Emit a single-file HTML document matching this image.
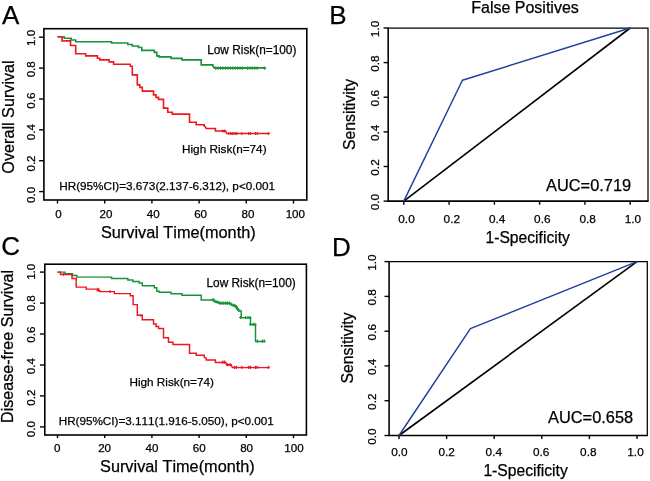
<!DOCTYPE html>
<html><head><meta charset="utf-8"><title>Figure</title>
<style>
html,body{margin:0;padding:0;background:#fff;}
svg{display:block;}
text{font-family:"Liberation Sans",Arial,Helvetica,sans-serif;font-kerning:none;fill:#000;stroke:#000;stroke-width:0.25px;}
</style></head>
<body>
<svg width="650" height="481" viewBox="0 0 650 481">
<rect width="650" height="481" fill="#fff"/>
<rect x="43.9" y="28.7" width="262.90000000000003" height="171.3" fill="none" stroke="#000" stroke-width="1.6"/>
<line x1="57.5" y1="200.0" x2="57.5" y2="203.6" stroke="#000" stroke-width="1.4"/><line x1="104.7" y1="200.0" x2="104.7" y2="203.6" stroke="#000" stroke-width="1.4"/><line x1="151.9" y1="200.0" x2="151.9" y2="203.6" stroke="#000" stroke-width="1.4"/><line x1="199.1" y1="200.0" x2="199.1" y2="203.6" stroke="#000" stroke-width="1.4"/><line x1="246.3" y1="200.0" x2="246.3" y2="203.6" stroke="#000" stroke-width="1.4"/><line x1="293.5" y1="200.0" x2="293.5" y2="203.6" stroke="#000" stroke-width="1.4"/>
<line x1="43.9" y1="191.6" x2="39.1" y2="191.6" stroke="#000" stroke-width="1.4"/><line x1="43.9" y1="160.7" x2="39.1" y2="160.7" stroke="#000" stroke-width="1.4"/><line x1="43.9" y1="129.8" x2="39.1" y2="129.8" stroke="#000" stroke-width="1.4"/><line x1="43.9" y1="99.0" x2="39.1" y2="99.0" stroke="#000" stroke-width="1.4"/><line x1="43.9" y1="68.1" x2="39.1" y2="68.1" stroke="#000" stroke-width="1.4"/><line x1="43.9" y1="37.2" x2="39.1" y2="37.2" stroke="#000" stroke-width="1.4"/>
<text x="58.5" y="217.9" font-size="11.6" text-anchor="middle" >0</text>
<text x="105.9" y="217.9" font-size="11.6" text-anchor="middle" >20</text>
<text x="153.2" y="217.9" font-size="11.6" text-anchor="middle" >40</text>
<text x="200.6" y="217.9" font-size="11.6" text-anchor="middle" >60</text>
<text x="247.9" y="217.9" font-size="11.6" text-anchor="middle" >80</text>
<text x="295.3" y="217.9" font-size="11.6" text-anchor="middle" >100</text>
<text x="34.8" y="194.9" font-size="11.6" text-anchor="middle" transform="rotate(-90 34.8 194.9)" >0.0</text>
<text x="34.8" y="163.5" font-size="11.6" text-anchor="middle" transform="rotate(-90 34.8 163.5)" >0.2</text>
<text x="34.8" y="132.1" font-size="11.6" text-anchor="middle" transform="rotate(-90 34.8 132.1)" >0.4</text>
<text x="34.8" y="100.7" font-size="11.6" text-anchor="middle" transform="rotate(-90 34.8 100.7)" >0.6</text>
<text x="34.8" y="69.3" font-size="11.6" text-anchor="middle" transform="rotate(-90 34.8 69.3)" >0.8</text>
<text x="34.8" y="37.9" font-size="11.6" text-anchor="middle" transform="rotate(-90 34.8 37.9)" >1.0</text>
<text x="14.0" y="117.0" font-size="16.2" text-anchor="middle" transform="rotate(-90 14.0 117.0)" >Overall Survival</text>
<text x="178.3" y="237.8" font-size="16.3" text-anchor="middle" >Survival Time(month)</text>
<path d="M57.5,36.7 L64.2,36.7 L64.2,38.2 L71.2,38.2 L71.2,40.0 L75.7,40.0 L75.7,41.7 L111.6,41.7 L111.6,43.0 L127.8,43.0 L127.8,44.5 L132.3,44.5 L132.3,46.0 L138.6,46.0 L138.6,47.5 L141.8,47.5 L141.8,50.4 L154.3,50.4 L154.3,52.4 L156.8,52.4 L156.8,55.9 L159.0,55.9 L159.0,56.9 L171.0,56.9 L171.0,58.4 L180.0,58.4 L182.0,58.4 L182.0,59.9 L201.2,59.9 L201.2,64.9 L212.9,64.9 L212.9,66.4 L214.4,67.9 L264.8,67.9" fill="none" stroke="#15933a" stroke-width="1.6" stroke-linejoin="miter"/>
<path d="M57.5,36.7 L62.0,36.7 L62.0,41.0 L70.5,40.7 L70.5,45.5 L75.7,45.5 L75.7,53.7 L85.7,53.7 L85.7,55.9 L97.4,55.9 L97.4,58.2 L99.9,58.2 L99.9,59.9 L109.1,59.9 L109.1,61.9 L113.6,61.9 L113.6,64.2 L130.3,64.2 L130.3,66.2 L132.3,66.2 L132.3,74.9 L137.3,74.9 L137.3,84.9 L139.8,84.9 L139.8,87.4 L142.3,87.4 L142.3,91.1 L153.5,91.1 L153.5,94.9 L156.0,94.9 L156.0,97.4 L158.5,97.4 L158.5,99.4 L163.5,99.4 L163.5,108.1 L167.8,108.1 L167.8,112.3 L172.3,112.3 L172.3,114.1 L180.0,114.1 L189.5,114.1 L189.5,122.3 L196.2,122.3 L196.2,124.8 L204.2,124.8 L204.2,126.3 L205.4,126.8 L206.2,128.5 L215.4,128.5 L215.4,131.0 L225.6,131.0 L226.9,133.5 L269.6,133.5" fill="none" stroke="#ee161f" stroke-width="1.6" stroke-linejoin="miter"/>
<path d="M213.9,68.1H217.3M215.6,66.4V69.8" stroke="#15933a" stroke-width="1.1" fill="none"/><path d="M216.3,68.1H219.7M218.0,66.4V69.8" stroke="#15933a" stroke-width="1.1" fill="none"/><path d="M218.8,68.1H222.2M220.5,66.4V69.8" stroke="#15933a" stroke-width="1.1" fill="none"/><path d="M221.2,68.1H224.6M222.9,66.4V69.8" stroke="#15933a" stroke-width="1.1" fill="none"/><path d="M223.7,68.1H227.1M225.4,66.4V69.8" stroke="#15933a" stroke-width="1.1" fill="none"/><path d="M226.1,68.1H229.5M227.8,66.4V69.8" stroke="#15933a" stroke-width="1.1" fill="none"/><path d="M228.6,68.1H232.0M230.3,66.4V69.8" stroke="#15933a" stroke-width="1.1" fill="none"/><path d="M231.0,68.1H234.4M232.7,66.4V69.8" stroke="#15933a" stroke-width="1.1" fill="none"/><path d="M233.5,68.1H236.9M235.2,66.4V69.8" stroke="#15933a" stroke-width="1.1" fill="none"/><path d="M235.9,68.1H239.3M237.6,66.4V69.8" stroke="#15933a" stroke-width="1.1" fill="none"/><path d="M238.4,68.1H241.8M240.1,66.4V69.8" stroke="#15933a" stroke-width="1.1" fill="none"/><path d="M240.8,68.1H244.2M242.5,66.4V69.8" stroke="#15933a" stroke-width="1.1" fill="none"/><path d="M245.7,68.1H249.1M247.4,66.4V69.8" stroke="#15933a" stroke-width="1.1" fill="none"/><path d="M248.2,68.1H251.6M249.9,66.4V69.8" stroke="#15933a" stroke-width="1.1" fill="none"/><path d="M250.6,68.1H254.0M252.3,66.4V69.8" stroke="#15933a" stroke-width="1.1" fill="none"/><path d="M253.1,68.1H256.5M254.8,66.4V69.8" stroke="#15933a" stroke-width="1.1" fill="none"/><path d="M255.5,68.1H258.9M257.2,66.4V69.8" stroke="#15933a" stroke-width="1.1" fill="none"/><path d="M262.9,68.1H266.3M264.6,66.4V69.8" stroke="#15933a" stroke-width="1.1" fill="none"/>
<path d="M221.2,131.0H224.4M222.8,129.4V132.6" stroke="#ee161f" stroke-width="1.1" fill="none"/><path d="M223.0,131.0H226.2M224.6,129.4V132.6" stroke="#ee161f" stroke-width="1.1" fill="none"/><path d="M227.3,133.5H230.5M228.9,131.9V135.1" stroke="#ee161f" stroke-width="1.1" fill="none"/><path d="M229.2,133.5H232.4M230.8,131.9V135.1" stroke="#ee161f" stroke-width="1.1" fill="none"/><path d="M230.6,133.5H233.8M232.2,131.9V135.1" stroke="#ee161f" stroke-width="1.1" fill="none"/><path d="M232.2,133.5H235.4M233.8,131.9V135.1" stroke="#ee161f" stroke-width="1.1" fill="none"/><path d="M234.1,133.5H237.3M235.7,131.9V135.1" stroke="#ee161f" stroke-width="1.1" fill="none"/><path d="M235.3,133.5H238.5M236.9,131.9V135.1" stroke="#ee161f" stroke-width="1.1" fill="none"/><path d="M240.2,133.5H243.4M241.8,131.9V135.1" stroke="#ee161f" stroke-width="1.1" fill="none"/><path d="M247.0,133.5H250.2M248.6,131.9V135.1" stroke="#ee161f" stroke-width="1.1" fill="none"/><path d="M248.9,133.5H252.1M250.5,131.9V135.1" stroke="#ee161f" stroke-width="1.1" fill="none"/><path d="M253.8,133.5H257.0M255.4,131.9V135.1" stroke="#ee161f" stroke-width="1.1" fill="none"/><path d="M255.6,133.5H258.8M257.2,131.9V135.1" stroke="#ee161f" stroke-width="1.1" fill="none"/><path d="M266.7,133.5H269.9M268.3,131.9V135.1" stroke="#ee161f" stroke-width="1.1" fill="none"/>
<text x="207.2" y="53.5" font-size="11.85" text-anchor="start" >Low Risk(n=100)</text>
<text x="182.0" y="152.8" font-size="11.75" text-anchor="start" >High Risk(n=74)</text>
<text x="59.2" y="189.9" font-size="11.74" text-anchor="start" >HR(95%CI)=3.673(2.137-6.312), p&lt;0.001</text>
<text x="2.0" y="23.7" font-size="26" text-anchor="start" >A</text>
<rect x="44.8" y="264.2" width="261.59999999999997" height="170.8" fill="none" stroke="#000" stroke-width="1.6"/>
<line x1="57.5" y1="435.0" x2="57.5" y2="438.1" stroke="#000" stroke-width="1.4"/><line x1="104.7" y1="435.0" x2="104.7" y2="438.1" stroke="#000" stroke-width="1.4"/><line x1="151.9" y1="435.0" x2="151.9" y2="438.1" stroke="#000" stroke-width="1.4"/><line x1="199.1" y1="435.0" x2="199.1" y2="438.1" stroke="#000" stroke-width="1.4"/><line x1="246.3" y1="435.0" x2="246.3" y2="438.1" stroke="#000" stroke-width="1.4"/><line x1="293.5" y1="435.0" x2="293.5" y2="438.1" stroke="#000" stroke-width="1.4"/>
<line x1="44.8" y1="426.9" x2="40.0" y2="426.9" stroke="#000" stroke-width="1.4"/><line x1="44.8" y1="395.9" x2="40.0" y2="395.9" stroke="#000" stroke-width="1.4"/><line x1="44.8" y1="365.0" x2="40.0" y2="365.0" stroke="#000" stroke-width="1.4"/><line x1="44.8" y1="334.0" x2="40.0" y2="334.0" stroke="#000" stroke-width="1.4"/><line x1="44.8" y1="303.1" x2="40.0" y2="303.1" stroke="#000" stroke-width="1.4"/><line x1="44.8" y1="272.1" x2="40.0" y2="272.1" stroke="#000" stroke-width="1.4"/>
<text x="57.2" y="451.7" font-size="11.6" text-anchor="middle" >0</text>
<text x="104.6" y="451.7" font-size="11.6" text-anchor="middle" >20</text>
<text x="151.9" y="451.7" font-size="11.6" text-anchor="middle" >40</text>
<text x="199.3" y="451.7" font-size="11.6" text-anchor="middle" >60</text>
<text x="246.6" y="451.7" font-size="11.6" text-anchor="middle" >80</text>
<text x="294.0" y="451.7" font-size="11.6" text-anchor="middle" >100</text>
<text x="34.8" y="429.1" font-size="11.6" text-anchor="middle" transform="rotate(-90 34.8 429.1)" >0.0</text>
<text x="34.8" y="397.6" font-size="11.6" text-anchor="middle" transform="rotate(-90 34.8 397.6)" >0.2</text>
<text x="34.8" y="366.2" font-size="11.6" text-anchor="middle" transform="rotate(-90 34.8 366.2)" >0.4</text>
<text x="34.8" y="334.7" font-size="11.6" text-anchor="middle" transform="rotate(-90 34.8 334.7)" >0.6</text>
<text x="34.8" y="303.3" font-size="11.6" text-anchor="middle" transform="rotate(-90 34.8 303.3)" >0.8</text>
<text x="34.8" y="271.8" font-size="11.6" text-anchor="middle" transform="rotate(-90 34.8 271.8)" >1.0</text>
<text x="12.9" y="346.5" font-size="16.1" text-anchor="middle" transform="rotate(-90 12.9 346.5)" >Disease-free Survival</text>
<text x="177.4" y="471.5" font-size="16.3" text-anchor="middle" >Survival Time(month)</text>
<path d="M57.5,272.1 L65.0,272.1 L65.0,273.6 L72.5,273.6 L72.5,275.4 L76.9,275.4 L76.9,277.1 L111.6,277.1 L111.6,278.4 L127.8,278.4 L127.8,279.9 L132.8,279.9 L132.8,281.4 L139.1,281.4 L139.1,282.9 L142.3,282.9 L142.3,285.8 L154.3,285.8 L154.3,287.8 L156.8,287.8 L156.8,291.3 L159.0,291.3 L159.0,292.3 L171.0,292.3 L171.0,293.8 L180.0,293.8 L182.0,293.8 L182.0,295.3 L201.2,295.3 L201.2,295.3 L201.2,300.0 L213.1,300.0 L214.4,301.5 L218.7,302.8 L220.0,303.4 L230.0,303.4 L231.2,304.7 L233.7,305.9 L236.2,305.9 L236.2,307.8 L237.4,309.0 L238.7,310.9 L241.2,310.9 L241.2,317.8 L250.5,317.8 L250.5,324.6 L255.5,324.6 L255.5,341.5 L264.3,341.5" fill="none" stroke="#15933a" stroke-width="1.45" stroke-linejoin="miter"/>
<path d="M57.5,272.1 L60.5,272.1 L60.5,274.4 L72.0,274.4 L72.0,278.4 L76.2,278.4 L76.2,287.1 L86.2,287.1 L86.2,289.1 L97.4,289.1 L97.4,290.8 L99.9,290.8 L99.9,291.6 L114.4,291.6 L114.4,293.6 L130.3,293.6 L130.3,295.8 L133.1,295.8 L133.1,304.6 L137.3,304.6 L137.3,315.3 L142.3,315.3 L142.3,319.8 L153.5,319.8 L153.5,324.0 L156.0,324.0 L156.0,326.5 L158.5,326.5 L158.5,328.5 L163.5,328.5 L163.5,337.7 L168.5,337.7 L168.5,342.2 L173.0,342.2 L173.0,344.5 L180.0,344.5 L189.5,344.5 L189.5,353.2 L196.2,353.2 L196.2,355.2 L204.2,355.2 L204.3,355.4 L204.3,357.5 L206.2,358.1 L206.2,360.0 L215.4,360.0 L215.4,362.5 L225.8,362.5 L226.5,364.9 L231.4,364.9 L232.2,367.6 L269.5,367.6" fill="none" stroke="#ee161f" stroke-width="1.45" stroke-linejoin="miter"/>
<path d="M211.5,299.7H214.7M213.1,298.1V301.3" stroke="#15933a" stroke-width="1.1" fill="none"/><path d="M213.4,301.2H216.6M215.0,299.6V302.8" stroke="#15933a" stroke-width="1.1" fill="none"/><path d="M215.2,301.9H218.4M216.8,300.3V303.5" stroke="#15933a" stroke-width="1.1" fill="none"/><path d="M217.1,302.5H220.3M218.7,300.9V304.1" stroke="#15933a" stroke-width="1.1" fill="none"/><path d="M218.4,303.1H221.6M220.0,301.5V304.7" stroke="#15933a" stroke-width="1.1" fill="none"/><path d="M220.2,303.1H223.4M221.8,301.5V304.7" stroke="#15933a" stroke-width="1.1" fill="none"/><path d="M222.1,303.1H225.3M223.7,301.5V304.7" stroke="#15933a" stroke-width="1.1" fill="none"/><path d="M224.0,303.1H227.2M225.6,301.5V304.7" stroke="#15933a" stroke-width="1.1" fill="none"/><path d="M225.9,303.1H229.1M227.5,301.5V304.7" stroke="#15933a" stroke-width="1.1" fill="none"/><path d="M227.7,303.1H230.9M229.3,301.5V304.7" stroke="#15933a" stroke-width="1.1" fill="none"/><path d="M229.6,304.4H232.8M231.2,302.8V306.0" stroke="#15933a" stroke-width="1.1" fill="none"/><path d="M231.5,305.0H234.7M233.1,303.4V306.6" stroke="#15933a" stroke-width="1.1" fill="none"/><path d="M233.3,305.6H236.5M234.9,304.0V307.2" stroke="#15933a" stroke-width="1.1" fill="none"/><path d="M234.6,306.8H237.8M236.2,305.2V308.4" stroke="#15933a" stroke-width="1.1" fill="none"/><path d="M235.8,308.7H239.0M237.4,307.1V310.3" stroke="#15933a" stroke-width="1.1" fill="none"/><path d="M237.1,310.0H240.3M238.7,308.4V311.6" stroke="#15933a" stroke-width="1.1" fill="none"/><path d="M239.0,317.5H242.2M240.6,315.9V319.1" stroke="#15933a" stroke-width="1.1" fill="none"/><path d="M244.0,317.5H247.2M245.6,315.9V319.1" stroke="#15933a" stroke-width="1.1" fill="none"/><path d="M246.4,317.5H249.6M248.0,315.9V319.1" stroke="#15933a" stroke-width="1.1" fill="none"/><path d="M248.3,317.5H251.5M249.9,315.9V319.1" stroke="#15933a" stroke-width="1.1" fill="none"/><path d="M248.9,324.3H252.1M250.5,322.7V325.9" stroke="#15933a" stroke-width="1.1" fill="none"/><path d="M251.4,324.3H254.6M253.0,322.7V325.9" stroke="#15933a" stroke-width="1.1" fill="none"/><path d="M253.3,324.3H256.5M254.9,322.7V325.9" stroke="#15933a" stroke-width="1.1" fill="none"/><path d="M255.8,341.2H259.0M257.4,339.6V342.8" stroke="#15933a" stroke-width="1.1" fill="none"/><path d="M260.8,341.2H264.0M262.4,339.6V342.8" stroke="#15933a" stroke-width="1.1" fill="none"/><path d="M262.7,341.2H265.9M264.3,339.6V342.8" stroke="#15933a" stroke-width="1.1" fill="none"/>
<path d="M139.6,315.5H142.0M140.8,314.3V316.7" stroke="#ee161f" stroke-width="1.1" fill="none"/><path d="M62.1,274.4H64.9M63.5,273.0V275.8" stroke="#ee161f" stroke-width="1.1" fill="none"/><path d="M96.8,289.1H99.6M98.2,287.7V290.5" stroke="#ee161f" stroke-width="1.1" fill="none"/><path d="M108.6,291.5H111.4M110.0,290.1V292.9" stroke="#ee161f" stroke-width="1.1" fill="none"/><path d="M221.2,362.2H224.4M222.8,360.6V363.8" stroke="#ee161f" stroke-width="1.1" fill="none"/><path d="M223.0,362.2H226.2M224.6,360.6V363.8" stroke="#ee161f" stroke-width="1.1" fill="none"/><path d="M226.1,364.6H229.3M227.7,363.0V366.2" stroke="#ee161f" stroke-width="1.1" fill="none"/><path d="M228.6,364.6H231.8M230.2,363.0V366.2" stroke="#ee161f" stroke-width="1.1" fill="none"/><path d="M232.9,367.3H236.1M234.5,365.7V368.9" stroke="#ee161f" stroke-width="1.1" fill="none"/><path d="M234.7,367.3H237.9M236.3,365.7V368.9" stroke="#ee161f" stroke-width="1.1" fill="none"/><path d="M240.2,367.3H243.4M241.8,365.7V368.9" stroke="#ee161f" stroke-width="1.1" fill="none"/><path d="M247.0,367.3H250.2M248.6,365.7V368.9" stroke="#ee161f" stroke-width="1.1" fill="none"/><path d="M248.9,367.3H252.1M250.5,365.7V368.9" stroke="#ee161f" stroke-width="1.1" fill="none"/><path d="M253.8,367.3H257.0M255.4,365.7V368.9" stroke="#ee161f" stroke-width="1.1" fill="none"/><path d="M255.6,367.3H258.8M257.2,365.7V368.9" stroke="#ee161f" stroke-width="1.1" fill="none"/><path d="M266.7,367.3H269.9M268.3,365.7V368.9" stroke="#ee161f" stroke-width="1.1" fill="none"/>
<text x="206.5" y="287.4" font-size="11.85" text-anchor="start" >Low Risk(n=100)</text>
<text x="129.4" y="386.0" font-size="11.75" text-anchor="start" >High Risk(n=74)</text>
<text x="58.7" y="424.7" font-size="11.7" text-anchor="start" >HR(95%CI)=3.111(1.916-5.050), p&lt;0.001</text>
<text x="1.2" y="255.3" font-size="26" text-anchor="start" >C</text>
<path d="M388.2,28.0H648.0V201.1" fill="none" stroke="#000" stroke-width="1.25"/>
<path d="M388.2,27.4V201.1H648.6" fill="none" stroke="#000" stroke-width="1.55"/>
<line x1="403.8" y1="201.1" x2="403.8" y2="204.7" stroke="#000" stroke-width="1.4"/><line x1="449.1" y1="201.1" x2="449.1" y2="204.7" stroke="#000" stroke-width="1.4"/><line x1="494.4" y1="201.1" x2="494.4" y2="204.7" stroke="#000" stroke-width="1.4"/><line x1="539.6" y1="201.1" x2="539.6" y2="204.7" stroke="#000" stroke-width="1.4"/><line x1="584.9" y1="201.1" x2="584.9" y2="204.7" stroke="#000" stroke-width="1.4"/><line x1="630.2" y1="201.1" x2="630.2" y2="204.7" stroke="#000" stroke-width="1.4"/>
<line x1="388.2" y1="201.1" x2="383.6" y2="201.1" stroke="#000" stroke-width="1.4"/><line x1="388.2" y1="166.5" x2="383.6" y2="166.5" stroke="#000" stroke-width="1.4"/><line x1="388.2" y1="131.9" x2="383.6" y2="131.9" stroke="#000" stroke-width="1.4"/><line x1="388.2" y1="97.2" x2="383.6" y2="97.2" stroke="#000" stroke-width="1.4"/><line x1="388.2" y1="62.6" x2="383.6" y2="62.6" stroke="#000" stroke-width="1.4"/><line x1="388.2" y1="28.0" x2="383.6" y2="28.0" stroke="#000" stroke-width="1.4"/>
<text x="406.5" y="223.2" font-size="11.8" text-anchor="middle" >0.0</text>
<text x="451.8" y="223.2" font-size="11.8" text-anchor="middle" >0.2</text>
<text x="497.1" y="223.2" font-size="11.8" text-anchor="middle" >0.4</text>
<text x="542.3" y="223.2" font-size="11.8" text-anchor="middle" >0.6</text>
<text x="587.6" y="223.2" font-size="11.8" text-anchor="middle" >0.8</text>
<text x="632.9" y="223.2" font-size="11.8" text-anchor="middle" >1.0</text>
<text x="378.8" y="202.1" font-size="11.8" text-anchor="middle" transform="rotate(-90 378.8 202.1)" >0.0</text>
<text x="378.8" y="167.5" font-size="11.8" text-anchor="middle" transform="rotate(-90 378.8 167.5)" >0.2</text>
<text x="378.8" y="132.9" font-size="11.8" text-anchor="middle" transform="rotate(-90 378.8 132.9)" >0.4</text>
<text x="378.8" y="98.2" font-size="11.8" text-anchor="middle" transform="rotate(-90 378.8 98.2)" >0.6</text>
<text x="378.8" y="63.6" font-size="11.8" text-anchor="middle" transform="rotate(-90 378.8 63.6)" >0.8</text>
<text x="378.8" y="29.0" font-size="11.8" text-anchor="middle" transform="rotate(-90 378.8 29.0)" >1.0</text>
<path d="M403.8,201.1L630.2,28.0" stroke="#000" stroke-width="1.6" fill="none"/>
<path d="M403.8,201.1L462.4,80.3L630.2,28.0" stroke="#1f3f9c" stroke-width="1.45" fill="none" stroke-linejoin="round"/>
<text x="546.0" y="191.3" font-size="16.4" text-anchor="start" >AUC=0.719</text>
<text x="527.7" y="243.0" font-size="15.65" text-anchor="middle" >1-Specificity</text>
<text x="354.7" y="114.5" font-size="15.8" text-anchor="middle" transform="rotate(-90 354.7 114.5)" >Sensitivity</text>
<text x="329.3" y="23.7" font-size="26" text-anchor="start" >B</text>
<text x="525.0" y="12.7" font-size="16" text-anchor="middle" >False Positives</text>
<path d="M389.1,261.6H647.3V435.5" fill="none" stroke="#000" stroke-width="1.25"/>
<path d="M389.1,261.0V435.5H647.9" fill="none" stroke="#000" stroke-width="1.55"/>
<line x1="399.0" y1="435.5" x2="399.0" y2="439.1" stroke="#000" stroke-width="1.4"/><line x1="446.6" y1="435.5" x2="446.6" y2="439.1" stroke="#000" stroke-width="1.4"/><line x1="494.2" y1="435.5" x2="494.2" y2="439.1" stroke="#000" stroke-width="1.4"/><line x1="541.8" y1="435.5" x2="541.8" y2="439.1" stroke="#000" stroke-width="1.4"/><line x1="589.4" y1="435.5" x2="589.4" y2="439.1" stroke="#000" stroke-width="1.4"/><line x1="637.0" y1="435.5" x2="637.0" y2="439.1" stroke="#000" stroke-width="1.4"/>
<line x1="389.1" y1="435.5" x2="384.5" y2="435.5" stroke="#000" stroke-width="1.4"/><line x1="389.1" y1="400.7" x2="384.5" y2="400.7" stroke="#000" stroke-width="1.4"/><line x1="389.1" y1="365.9" x2="384.5" y2="365.9" stroke="#000" stroke-width="1.4"/><line x1="389.1" y1="331.2" x2="384.5" y2="331.2" stroke="#000" stroke-width="1.4"/><line x1="389.1" y1="296.4" x2="384.5" y2="296.4" stroke="#000" stroke-width="1.4"/><line x1="389.1" y1="261.6" x2="384.5" y2="261.6" stroke="#000" stroke-width="1.4"/>
<text x="399.4" y="455.7" font-size="11.8" text-anchor="middle" >0.0</text>
<text x="446.6" y="455.7" font-size="11.8" text-anchor="middle" >0.2</text>
<text x="493.8" y="455.7" font-size="11.8" text-anchor="middle" >0.4</text>
<text x="541.1" y="455.7" font-size="11.8" text-anchor="middle" >0.6</text>
<text x="588.3" y="455.7" font-size="11.8" text-anchor="middle" >0.8</text>
<text x="635.5" y="455.7" font-size="11.8" text-anchor="middle" >1.0</text>
<text x="376.2" y="436.5" font-size="11.8" text-anchor="middle" transform="rotate(-90 376.2 436.5)" >0.0</text>
<text x="376.2" y="401.7" font-size="11.8" text-anchor="middle" transform="rotate(-90 376.2 401.7)" >0.2</text>
<text x="376.2" y="366.9" font-size="11.8" text-anchor="middle" transform="rotate(-90 376.2 366.9)" >0.4</text>
<text x="376.2" y="332.2" font-size="11.8" text-anchor="middle" transform="rotate(-90 376.2 332.2)" >0.6</text>
<text x="376.2" y="297.4" font-size="11.8" text-anchor="middle" transform="rotate(-90 376.2 297.4)" >0.8</text>
<text x="376.2" y="262.6" font-size="11.8" text-anchor="middle" transform="rotate(-90 376.2 262.6)" >1.0</text>
<path d="M399.0,435.5L637.0,261.6" stroke="#000" stroke-width="1.6" fill="none"/>
<path d="M399.0,435.5L470.4,328.6L637.0,261.6" stroke="#1f3f9c" stroke-width="1.45" fill="none" stroke-linejoin="round"/>
<text x="548.0" y="422.7" font-size="16.4" text-anchor="start" >AUC=0.658</text>
<text x="525.6" y="476.3" font-size="15.65" text-anchor="middle" >1-Specificity</text>
<text x="352.5" y="348.0" font-size="15.8" text-anchor="middle" transform="rotate(-90 352.5 348.0)" >Sensitivity</text>
<text x="332.0" y="256.2" font-size="26" text-anchor="start" >D</text>
</svg>
</body></html>
